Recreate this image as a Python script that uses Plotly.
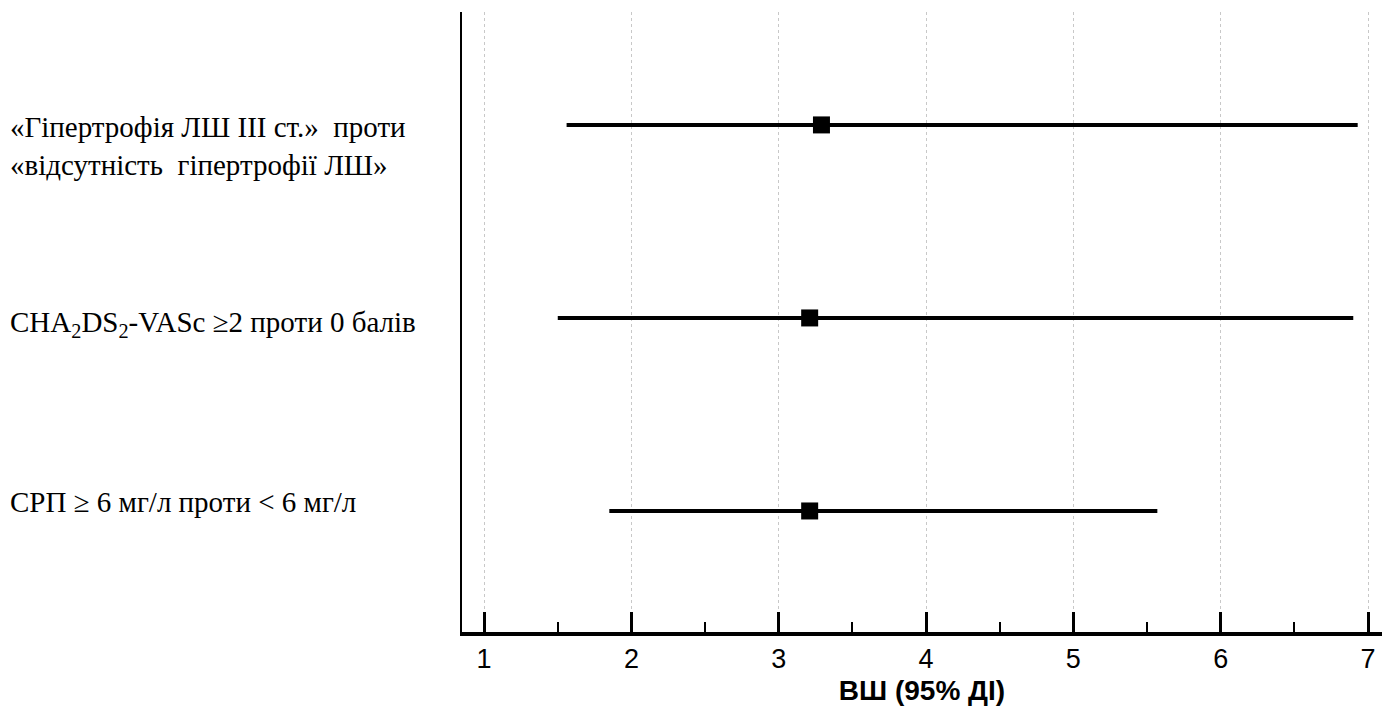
import plotly.graph_objects as go

# Data
labels = [
    "«Гіпертрофія ЛШ ІІІ ст.»  проти<br>«відсутність  гіпертрофії ЛШ»",
    "CHA<sub>2</sub>DS<sub>2</sub>-VASc ≥2 проти 0 балів",
    "СРП ≥ 6 мг/л проти < 6 мг/л",
]
rows = [3, 2, 1]
odds_ratio = [3.29, 3.21, 3.21]
ci_low = [1.56, 1.50, 1.85]
ci_high = [6.93, 6.90, 5.57]
x_ticks = [1, 2, 3, 4, 5, 6, 7]
x_title = "ВШ (95% ДІ)"

fig = go.Figure()
fig.add_trace(go.Scatter(
    x=odds_ratio, y=rows, mode="markers",
    marker=dict(symbol="square", size=17, color="black"),
    error_x=dict(type="data", symmetric=False,
                 array=[h - o for h, o in zip(ci_high, odds_ratio)],
                 arrayminus=[o - l for o, l in zip(odds_ratio, ci_low)],
                 color="black", thickness=4, width=0),
    showlegend=False, hoverinfo="skip",
))

label_shifts = [-21, -6, 9]
for lab, r, s in zip(labels, rows, label_shifts):
    fig.add_annotation(text=lab, x=-0.4935, xref="paper", y=r, yref="y",
                       xanchor="left", yanchor="middle", yshift=s,
                       showarrow=False, align="left",
                       font=dict(family="Liberation Serif", size=29, color="black"))

fig.update_layout(
    width=1384, height=704,
    margin=dict(l=454, r=10, t=4, b=80),
    paper_bgcolor="white", plot_bgcolor="white",
    xaxis=dict(range=[0.85, 7.095], tickvals=x_ticks, ticktext=[str(t) for t in x_ticks],
               showgrid=True, gridcolor="#c8c8c8", griddash="dot", gridwidth=1,
               zeroline=False, showline=True, linecolor="black", linewidth=4,
               ticks="inside", ticklen=20, tickwidth=3, tickcolor="black",
               minor=dict(dtick=0.5, ticks="inside", ticklen=10, tickwidth=2,
                          tickcolor="black", showgrid=False),
               tickfont=dict(family="Liberation Sans", size=27, color="black"),
               title=dict(text="<b>" + x_title + "</b>", standoff=8,
                          font=dict(family="Liberation Sans", size=28, color="black"))),
    yaxis=dict(range=[0.373, 3.585], showticklabels=False, showgrid=False,
               zeroline=False, showline=True, linecolor="black", linewidth=2,
               ticks=""),
)

fig.write_html("out.html")
